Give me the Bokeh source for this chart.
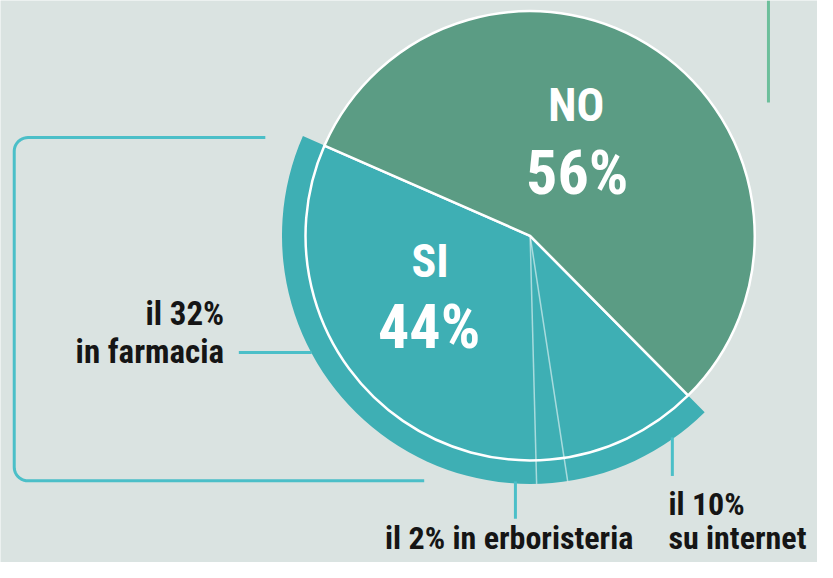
import numpy as np
from bokeh.plotting import figure
from bokeh.embed import file_html
from bokeh.resources import INLINE
from bokeh.models import Range1d, ColumnDataSource, Label

# ---- data ----
categories = ["SI", "NO"]
values = [44, 56]
pct_labels = ["44%", "56%"]
sub_categories = ["in farmacia", "in erboristeria", "su internet"]
sub_values = [32, 2, 10]
sub_label_lines = [["il 32%", "in farmacia"], ["il 2% in erboristeria"], ["il 10%", "su internet"]]

# ---- style / layout (data units = reference pixels, y up) ----
W, H = 817, 562
XR, YR = 833, 578
BG = "#dae3e1"
GREEN = "#5b9c84"
TEAL = "#3eafb4"
LINE_TEAL = "#4bbfc8"
LINE_GREEN = "#6cbf9b"
FONT = "Roboto Condensed"
CX, CY = 540, 336
R, R_OUT = 229, 253
START = np.deg2rad(156.3)

p = figure(width=W, height=H, x_range=Range1d(0, XR), y_range=Range1d(0, YR),
           output_backend="svg", toolbar_location=None, min_border=0,
           x_axis_location=None, y_axis_location=None,
           background_fill_color=BG, border_fill_color=BG, outline_line_color=None)
p.grid.visible = False

total = sum(values)
fr = np.array(values) / total
ends = START + 2 * np.pi * np.cumsum(fr)
starts = ends - 2 * np.pi * fr

# outer ring for the SI breakdown
p.annular_wedge(x=CX, y=CY, inner_radius=R, outer_radius=R_OUT,
                start_angle=starts[0], end_angle=ends[0], fill_color=TEAL, line_color=None)

src = ColumnDataSource(dict(cat=categories, start=starts, end=ends, color=[TEAL, GREEN]))
p.wedge(x=CX, y=CY, radius=R, start_angle="start", end_angle="end", fill_color="color",
        line_color="white", line_width=2.5, source=src)

# separators of the SI breakdown
sub_bounds = START + 2 * np.pi * np.cumsum(sub_values)[:-1] / total
p.ray(x=[CX] * len(sub_bounds), y=[CY] * len(sub_bounds), length=R_OUT, angle=sub_bounds,
      line_color="white", line_alpha=0.55, line_width=1.5)

# big labels (y = vertical centre of the capitals)
big = [(categories[0], 438, 310, 46), (pct_labels[0], 437, 243, 62),
       (categories[1], 587, 471, 46), (pct_labels[1], 588, 401, 62)]
for txt, x, y, fs in big:
    p.add_layout(Label(x=x, y=y, text=txt, text_color="white", text_font=FONT, text_font_style="bold",
                       text_font_size=f"{fs}px", text_align="center", text_baseline="alphabetic"))

# leader lines
def ring_x_left(y):
    return CX - np.sqrt(R_OUT ** 2 - (CY - y) ** 2)

def ring_y_bottom(x):
    return CY - np.sqrt(R_OUT ** 2 - (x - CX) ** 2)

p.line([243, ring_x_left(216)], [216, 216], line_color=LINE_TEAL, line_width=3)
p.line([525, 525], [ring_y_bottom(525), 45], line_color=LINE_TEAL, line_width=3)
p.line([685, 685], [ring_y_bottom(685), 89], line_color=LINE_TEAL, line_width=3)
p.line([783, 783], [473, YR], line_color=LINE_GREEN, line_width=3)

# bracket
cr = 14
bl, bt, bb = 14, 437, 84
a1 = np.linspace(np.pi / 2, np.pi, 12)
a2 = np.linspace(np.pi, 1.5 * np.pi, 12)
bx = np.concatenate([[270], bl + cr + cr * np.cos(a1), bl + cr + cr * np.cos(a2), [432]])
by = np.concatenate([[bt], bt - cr + cr * np.sin(a1), bb + cr + cr * np.sin(a2), [bb]])
p.line(bx, by, line_color=LINE_TEAL, line_width=3)

# sub labels
TXT = "#151515"
sub_pos = [(228, [256, 217], "right", 33), (392, [25], "left", 32), (681, [60, 25], "left", 32)]
for lines, (x, ys, al, fs) in zip(sub_label_lines, sub_pos):
    for t, y in zip(lines, ys):
        p.add_layout(Label(x=x, y=y, text=t, text_color=TXT, text_font=FONT, text_font_style="bold",
                           text_font_size=f"{fs}px", text_align=al, text_baseline="alphabetic"))

open("out.html", "w").write(file_html(p, INLINE))
